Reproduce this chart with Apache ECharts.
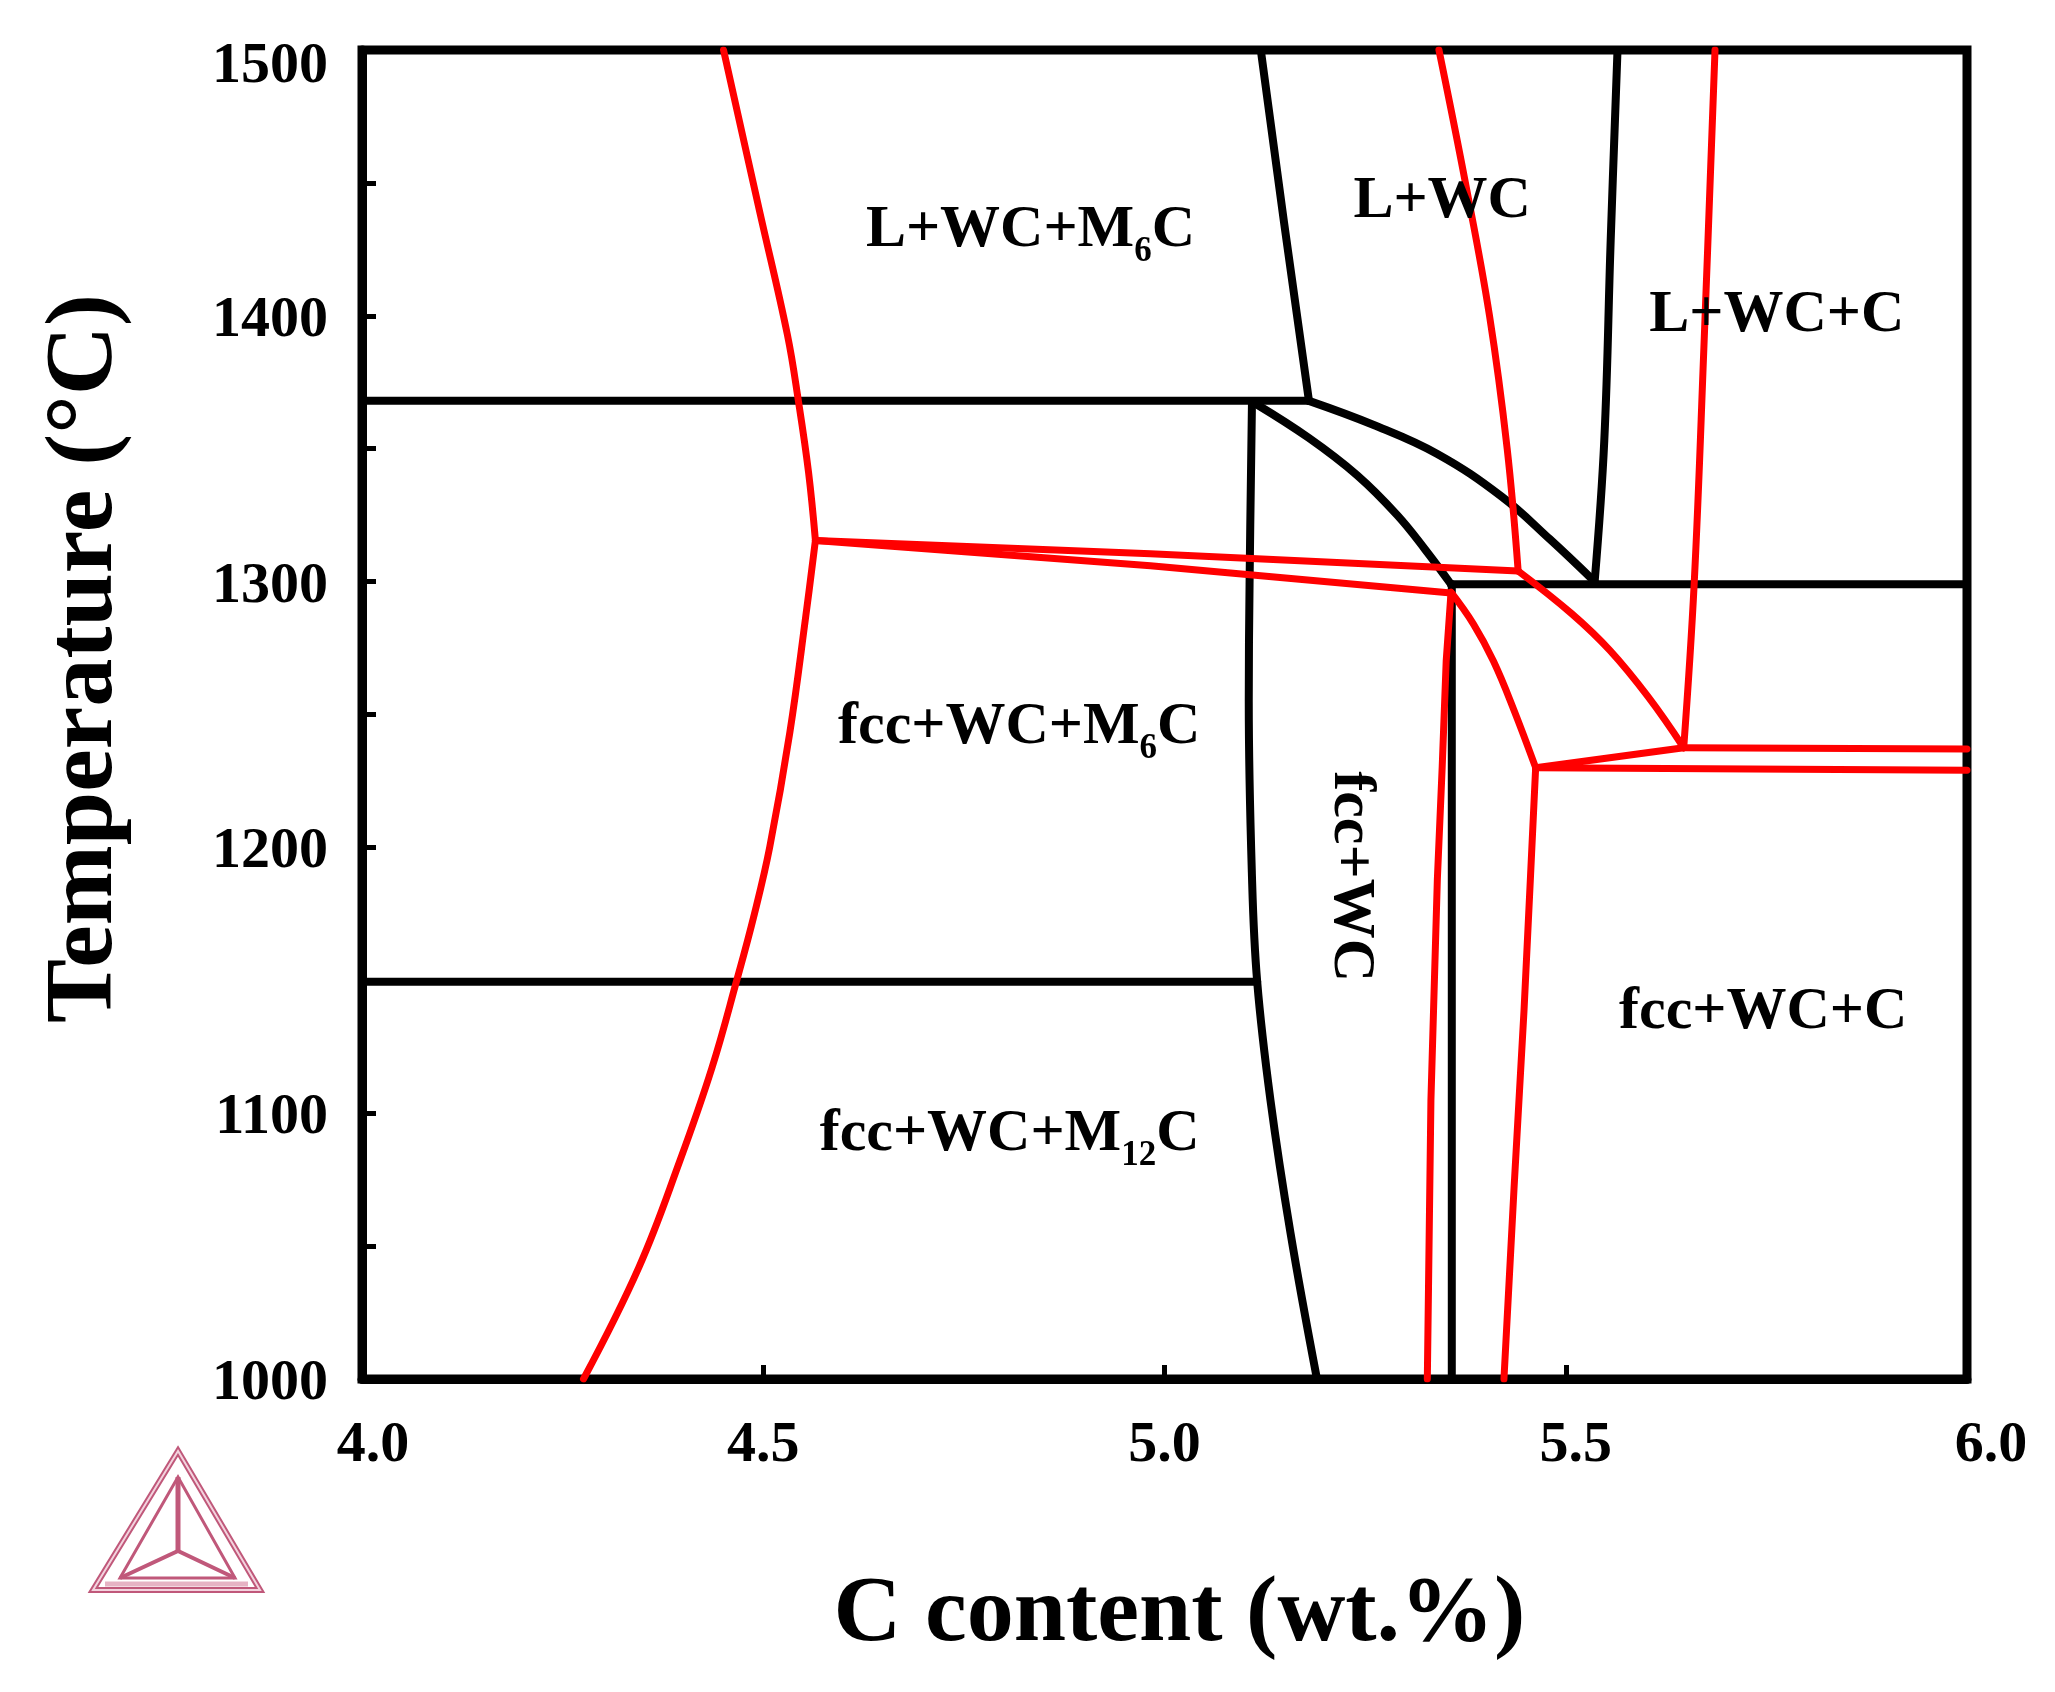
<!DOCTYPE html>
<html><head><meta charset="utf-8">
<script src="https://cdn.jsdelivr.net/npm/echarts@6/dist/echarts.min.js"></script>
<style>html,body{margin:0;padding:0;background:#fff}#c{width:2055px;height:1692px}</style>
</head><body><div id="c"></div>
<script>
// ---- axis ticks ----
const xTickValues = [4.0, 4.5, 5.0, 5.5, 6.0];
const yTickValues = [1000, 1100, 1200, 1300, 1400, 1500];

// ---- black phase boundaries [C wt.%, T °C] ----
const blackIso1368 = [[4.0, 1368], [5.18, 1368]];
const blackLiqM6C = [[5.12, 1500], [5.149, 1435], [5.18, 1368]];
const blackUpperArc = [[5.18, 1368], [5.26, 1359], [5.34, 1348], [5.42, 1332], [5.48, 1316], [5.536, 1300]];
const blackLowerArc = [[5.113, 1367], [5.18, 1354], [5.24, 1340], [5.29, 1325], [5.325, 1312], [5.357, 1299]];
const blackFccWcLeft = [[5.109, 1367.6], [5.106, 1299], [5.105, 1255], [5.109, 1189], [5.1155, 1149.5], [5.132, 1105], [5.157, 1055], [5.19, 1000]];
const blackIso1150 = [[4.0, 1149.5], [5.1155, 1149.5]];
const blackLiqC = [[5.536, 1300], [5.548, 1353], [5.556, 1428.5], [5.5645, 1500]];
const blackIso1300 = [[5.357, 1299], [6.0, 1299]];
const blackFccWcRight = [[5.358, 1299], [5.358, 1000]];

// ---- red phase boundaries [C wt.%, T °C] ----
const redLeftUpper = [[4.4505, 1500], [4.496, 1438.6], [4.530, 1393], [4.544, 1367.6], [4.5565, 1341], [4.565, 1315.5]];
const redLeftLower = [[4.565, 1315.5], [4.553, 1287], [4.533, 1243], [4.508, 1200], [4.489, 1175], [4.467, 1150], [4.436, 1117], [4.396, 1082], [4.345, 1042], [4.276, 1000]];
const redKinkUpper = [[4.565, 1315.5], [4.9825, 1310.5], [5.4407, 1304]];
const redKinkLower = [[4.565, 1315.5], [4.9825, 1306], [5.357, 1295.7]];
const redLiqWc = [[5.342, 1500], [5.375, 1450], [5.405, 1400], [5.427, 1350], [5.4407, 1304]];
const redArcOuter = [[5.4407, 1304], [5.5075, 1287.9], [5.555, 1274.1], [5.603, 1256.5], [5.647, 1237.5]];
const redLiqC = [[5.686, 1500], [5.672, 1387], [5.66, 1299], [5.647, 1237.5]];
const redIsoUpper = [[5.647, 1237.5], [6.0, 1237]];
const redLink = [[5.4625, 1230], [5.647, 1237.5]];
const redIsoLower = [[5.4625, 1230], [6.0, 1229]];
const redArcInner = [[5.357, 1296], [5.385, 1284], [5.41, 1270], [5.435, 1252], [5.4625, 1230]];
const redFccC = [[5.4625, 1230], [5.456, 1188.6], [5.448, 1138.7], [5.4356, 1072], [5.423, 1000]];
const redFccWc = [[5.357, 1295.7], [5.351, 1270], [5.346, 1230], [5.340, 1188], [5.332, 1105], [5.3275, 1000]];

// ---- region labels ----
const regionText = ['L+WC+M{s|6}C', 'L+WC', 'L+WC+C', 'fcc+WC+M{s|6}C', 'fcc+WC+M{s|12}C', 'fcc+WC+C', 'fcc+WC'];
const regionAt = [[4.833, 1432], [5.346, 1443], [5.763, 1400], [4.819, 1245], [4.807, 1092], [5.746, 1138], [5.232, 1189]];
const regionRotate = [0, 0, 0, 0, 0, 0, -90];

const SERIF = '"Liberation Serif", "Times New Roman", serif';
const chart = echarts.init(document.getElementById('c'), null, {renderer: 'canvas'});

function boundary(name, data, color, width, smooth) {
  return {
    name: name, type: 'line', data: data, symbol: 'none', smooth: smooth ? 0.4 : false,
    lineStyle: {color: color, width: width, cap: 'round', join: 'round'},
    z: color === '#000000' ? 3 : 4, silent: true, animation: false
  };
}
const blacks = [blackIso1368, blackLiqM6C, blackUpperArc, blackLowerArc, blackFccWcLeft, blackIso1150, blackLiqC, blackIso1300, blackFccWcRight];
const blackSmooth = [false, false, true, true, true, false, true, false, false];
const reds = [redLeftUpper, redLeftLower, redKinkUpper, redKinkLower, redLiqWc, redArcOuter, redLiqC, redIsoUpper, redLink, redIsoLower, redArcInner, redFccC, redFccWc];
const redSmooth = [true, true, false, false, true, true, true, false, false, false, true, false, false];

const series = [];
blacks.forEach((d, i) => series.push(boundary('black' + i, d, '#000000', 8, blackSmooth[i])));
reds.forEach((d, i) => series.push(boundary('red' + i, d, '#ff0000', 7, redSmooth[i])));

const xShift = {4: 22, 5.5: 20, 6: 48};
const tickFont = {fontFamily: SERIF, fontWeight: 'bold', fontSize: 58, color: '#000'};

const logo = {
  type: 'group', left: 90, top: 1448, silent: true,
  children: [
    {type: 'polygon', shape: {points: [[85, 0], [0, 139], [167, 139]]}, style: {fill: 'none', stroke: '#c0587a', lineWidth: 6}},
    {type: 'polygon', shape: {points: [[85, 0], [0, 139], [167, 139]]}, style: {fill: 'none', stroke: '#f3d3de', lineWidth: 2}},
    {type: 'polygon', shape: {points: [[85, 26], [27, 127], [142, 127]]}, style: {fill: 'none', stroke: '#c0587a', lineWidth: 3}},
    {type: 'polyline', shape: {points: [[85, 26], [85, 100]]}, style: {stroke: '#c0587a', lineWidth: 5}},
    {type: 'polyline', shape: {points: [[27, 127], [85, 100], [142, 127]]}, style: {stroke: '#c0587a', lineWidth: 4}},
    {type: 'polyline', shape: {points: [[12, 133], [155, 133]]}, style: {stroke: '#e6b3c4', lineWidth: 5}}
  ]
};

chart.setOption({
  backgroundColor: '#ffffff',
  animation: false,
  grid: {left: 362, right: 88, top: 50, bottom: 313, show: true, borderColor: '#000', borderWidth: 9, containLabel: false},
  xAxis: {
    type: 'value', min: 4, max: 6, interval: 0.5,
    name: 'C content (wt.%)', nameLocation: 'middle', nameGap: 190,
    nameTextStyle: {fontFamily: SERIF, fontWeight: 'bold', fontSize: 94, color: '#000', padding: [0, 0, 0, 30]},
    axisLine: {show: true, lineStyle: {color: '#000', width: 9}},
    axisTick: {show: true, inside: true, length: 14, lineStyle: {color: '#000', width: 5}},
    splitLine: {show: false},
    axisLabel: {
      margin: 38,
      formatter: (v) => {
        const key = Math.round(v * 10) / 10;
        const i = xTickValues.indexOf(key);
        const txt = (i >= 0 ? xTickValues[i] : v).toFixed(1);
        const sh = xShift[key];
        return sh ? '{p' + sh + '|' + txt + '}' : '{n|' + txt + '}';
      },
      rich: {
        n: tickFont,
        p22: Object.assign({padding: [0, 0, 0, 22]}, tickFont),
        p20: Object.assign({padding: [0, 0, 0, 20]}, tickFont),
        p48: Object.assign({padding: [0, 0, 0, 48]}, tickFont)
      }
    }
  },
  yAxis: {
    type: 'value', min: 1000, max: 1500, interval: 100,
    name: 'Temperature (\u00B0C)', nameLocation: 'middle', nameGap: 228,
    nameTextStyle: {fontFamily: SERIF, fontWeight: 'bold', fontSize: 96, color: '#000', padding: [0, 0, 0, 112]},
    axisLine: {show: true, lineStyle: {color: '#000', width: 9}},
    axisTick: {show: true, inside: true, length: 14, lineStyle: {color: '#000', width: 5}},
    minorTick: {show: true, splitNumber: 2, length: 14, lineStyle: {color: '#000', width: 5}},
    splitLine: {show: false},
    axisLabel: {
      margin: 34,
      formatter: (v) => {
        const i = yTickValues.indexOf(v);
        const txt = String(i >= 0 ? yTickValues[i] : v);
        return v === 1500 ? '{t|' + txt + '}' : '{n|' + txt + '}';
      },
      rich: {
        n: Object.assign({padding: [10, 0, 0, 0]}, tickFont),
        t: Object.assign({padding: [34, 0, 0, 0]}, tickFont)
      }
    }
  },
  graphic: [logo],
  series: series
});

// region labels placed through the chart's own coordinate conversion
const richStyles = {
  m: {fontFamily: SERIF, fontWeight: 'bold', fontSize: 60, lineHeight: 64, fill: '#000000'},
  s: {fontFamily: SERIF, fontWeight: 'bold', fontSize: 35, lineHeight: 35, padding: [43, 0, 0, 0], fill: '#000000'}
};
function toRich(t) {
  return t.split(/(\{s\|[^}]*\})/).map(seg => seg.startsWith('{s|') ? seg : (seg ? '{m|' + seg + '}' : '')).join('');
}
const labelGraphics = regionAt.map((p, i) => {
  const px = chart.convertToPixel({gridIndex: 0}, p);
  return {
    type: 'text', x: px[0], y: px[1], rotation: regionRotate[i] * Math.PI / 180, silent: true, z: 100,
    style: {text: toRich(regionText[i]), rich: richStyles, fill: '#000000', align: 'center', verticalAlign: 'middle'}
  };
});
chart.setOption({graphic: [logo].concat(labelGraphics)});
</script></body></html>
